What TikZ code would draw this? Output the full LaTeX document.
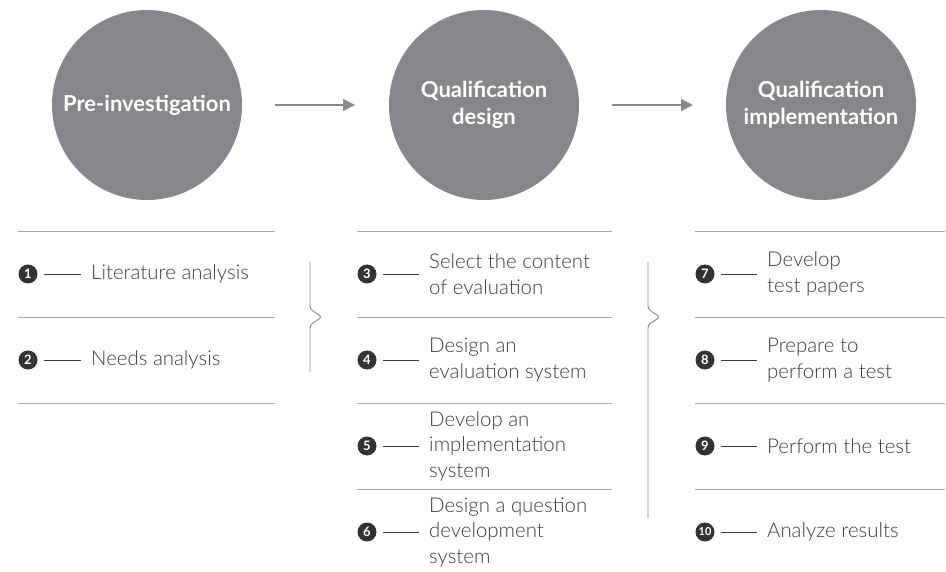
\documentclass[tikz,border=0pt]{standalone}
\usepackage{fontspec}
\setmainfont{Lato}[UprightFont=* Light, BoldFont=* Bold]
\usetikzlibrary{arrows.meta}
\definecolor{circgray}{HTML}{87878B}
\definecolor{numdark}{HTML}{333333}
\definecolor{txtgray}{HTML}{3C3C3C}
\definecolor{linegray}{HTML}{AAAAAA}
\definecolor{arrgray}{HTML}{8A8A8D}
\tikzset{
  phase/.style={circle, fill=circgray, minimum size=190pt, inner sep=0pt, text=white, align=center, font=\bfseries\fontsize{22}{27}\selectfont},
  flow/.style={draw=arrgray, line width=1.2pt, -{Triangle[length=12pt,width=12pt]}},
  sep/.style={draw=linegray, line width=0.9pt},
  num/.style={circle, fill=numdark, text=white, inner sep=0pt, minimum size=19pt, font=\bfseries\fontsize{13}{13}\selectfont},
  item/.style={anchor=west, inner sep=0pt, align=left, text=txtgray, font=\fontsize{20.4}{25.5}\selectfont},
  lead/.style={draw=txtgray, line width=0.8pt},
  brace/.style={draw=linegray!80!black, line width=0.9pt, rounded corners=3pt}
}
\begin{document}
\begin{tikzpicture}[x=1pt,y=-1pt]
\useasboundingbox (0,0) rectangle (946,572);
% phases
\node[phase] (p1) at (147,105) {Pre-investigation};
\node[phase] (p2) at (484,105) {Qualification\\design};
\node[phase] (p3) at (821,105) {Qualification\\implementation};
\draw[flow] (275,105) coordinate (a1s) -- (355,105) coordinate (a1e);
\draw[flow] (612,105) coordinate (a2s) -- (693,105) coordinate (a2e);
% separators
\foreach \y in {231,317,403} \draw[sep] (18,\y) -- (275,\y);
\foreach \y in {231,317,403,489} \draw[sep] (357,\y) -- (612,\y);
\foreach \y in {231,317,403,489} \draw[sep] (695,\y) -- (945,\y);
% braces
\draw[brace] (310,262) -- (310,309) -- (322,317) -- (310,325) -- (310,372);
\draw[brace] (648,262) -- (648,309) -- (660,317) -- (648,325) -- (648,518);
% column 1
\node[num] (n1) at (28,274) {1};
\node[item] (t1) at (91,274) {Literature analysis};
\node[num] (n2) at (28,360) {2};
\node[item] (t2) at (91,360) {Needs analysis};
% column 2
\node[num] (n3) at (367,274) {3};
\node[item] (t3) at (429,274) {Select the content\\of evaluation};
\node[num] (n4) at (367,360) {4};
\node[item] (t4) at (429,360) {Design an\\evaluation system};
\node[num] (n5) at (367,446) {5};
\node[item] (t5) at (429,446) {Develop an\\implementation\\system};
\node[num] (n6) at (367,532) {6};
\node[item] (t6) at (429,532) {Design a question\\development\\system};
% column 3
\node[num] (n7) at (705,274) {7};
\node[item] (t7) at (767,274) {Develop\\test papers};
\node[num] (n8) at (705,360) {8};
\node[item] (t8) at (767,360) {Prepare to\\perform a test};
\node[num] (n9) at (705,446) {9};
\node[item] (t9) at (767,446) {Perform the test};
\node[num, font=\bfseries\fontsize{11}{11}\selectfont] (n10) at (705,532) {10};
\node[item] (t10) at (767,532) {Analyze results};
% leaders
\foreach \i in {1,...,10} \draw[lead] ([xshift=6pt]n\i.east) -- ([xshift=-10pt]n\i -| t\i.west);
\end{tikzpicture}
\end{document}
